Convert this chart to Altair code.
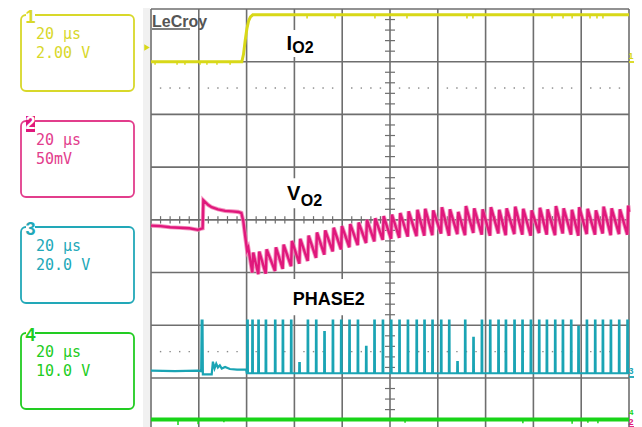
import altair as alt
import pandas as pd

# ---------------- screen geometry ----------------
T_MAX = 200.0            # 10 div x 20 us
DIV_LO, DIV_HI = 0.07, 8.0
W, H = 478, 418

GRID = "#6e6e6e"
YEL = "#d8d818"
MAG = "#e0187c"
MAG_HALO = "#f07ab0"
CYA = "#1aa4b4"
GRN = "#18d418"

# ---------------- channel legend boxes ----------------
channel_ids = ["1", "2", "3", "4"]
channel_tdiv = ["20 μs", "20 μs", "20 μs", "20 μs"]
channel_vdiv = ["2.00 V", "50mV", "20.0 V", "10.0 V"]
channel_box_color = ["#d8d82a", "#e23d8c", "#22a8b8", "#22cc22"]
channel_digit_color = ["#d8d82a", "#ffffff", "#22a8b8", "#22cc22"]
channel_digit_bg = ["#ffffff", "#e0187c", "#ffffff", "#ffffff"]

# ---------------- traces (time in us, position in divisions) ----------------
# CH1  I_O2
ch1_t = [0.0, 38.0, 38.7, 39.4, 40.1, 40.8, 41.6, 42.6, 200.0]
ch1_div = [7.00, 7.00, 7.14, 7.40, 7.62, 7.77, 7.85, 7.89, 7.89]
ch1_glitch_t = [1.7, 10.9, 14.2, 20.5, 23.4, 27.6, 33.1, 65.3, 77.0, 93.7, 107.1,
                132.2, 134.7, 167.8, 172.4, 176.2, 183.7, 186.6, 189.1]
ch1_glitch_hi = [7.00] * 7 + [7.89] * 12
ch1_glitch_lo = [6.94] * 7 + [7.82] * 12
ch1_trigger_div = [7.27]

# CH4  (flat)
ch4_t = [0.0, 200.0]
ch4_div = [0.21, 0.21]
ch4_glitch_t = [11.3, 19.7, 30.5, 106.3, 155.6, 176.2, 182.8, 187.0]
ch4_glitch_lo = [0.11, 0.12, 0.16, 0.15, 0.14, 0.13, 0.15, 0.14]

# CH3  PHASE2
ch3_pre_t = [0.0, 10.0, 19.5, 21.0, 21.2, 21.55, 21.7, 25.4, 25.9, 26.6, 27.3, 28.0,
             28.8, 29.6, 31.0, 33.0, 36.0, 39.8, 40.1]
ch3_pre_div = [1.14, 1.13, 1.14, 1.13, 2.09, 2.09, 1.07, 1.07, 1.31, 1.18, 1.27, 1.20,
               1.24, 1.18, 1.21, 1.17, 1.16, 1.16, 1.09]
ch3_base = 1.09
pulse_t = [40.29, 42.38, 44.90, 47.99, 51.88, 55.10, 58.58, 62.05, 65.56, 69.04,
           72.51, 76.03, 79.50, 82.97, 86.49, 89.97, 93.43, 96.95, 100.42, 103.89,
           107.41, 111.09, 114.35, 117.70, 121.34, 124.69, 128.16, 131.38, 134.85, 138.37,
           141.84, 145.32, 148.41, 152.01, 155.36, 158.87, 162.34, 165.56, 169.04, 172.26,
           175.73, 178.79, 182.30, 185.77, 188.99, 192.34, 195.81, 199.29]
ch3_top = [2.09, 2.09, 2.09, 2.09, 2.09, 2.09, 2.09, 1.28, 2.09, 2.09,
           1.87, 2.09, 2.09, 2.09, 2.09, 1.59, 2.09, 2.09, 2.09, 2.09,
           2.09, 2.09, 2.09, 2.09, 2.09, 2.09, 1.30, 2.09, 1.76, 2.09,
           2.09, 2.09, 2.09, 2.09, 2.09, 2.09, 2.09, 2.09, 2.09, 2.09,
           2.09, 1.97, 2.09, 2.09, 2.09, 2.09, 2.09, 2.09]

# CH2  V_O2
ch2_pre_t = [0.0, 4.0, 8.0, 12.0, 16.0, 19.6, 20.8, 21.6, 21.9, 22.6, 24.0, 25.4,
             28.0, 31.0, 34.0, 36.5, 37.8, 38.6, 39.5, 40.2]
ch2_pre_div = [3.89, 3.88, 3.86, 3.85, 3.84, 3.81, 3.83, 3.84, 4.37, 4.34, 4.28, 4.24,
               4.20, 4.17, 4.16, 4.15, 4.13, 3.98, 3.66, 3.42]
ch2_peak = [3.47, 3.38, 3.40, 3.44, 3.48, 3.53, 3.60, 3.64, 3.70, 3.76,
            3.80, 3.85, 3.88, 3.92, 3.95, 4.00, 4.03, 4.07, 4.10, 4.13,
            4.16, 4.19, 4.21, 4.18, 4.24, 4.20, 4.15, 4.26, 4.22, 4.20,
            4.24, 4.19, 4.22, 4.25, 4.21, 4.18, 4.23, 4.20, 4.26, 4.22,
            4.19, 4.24, 4.21, 4.18, 4.25, 4.22, 4.20, 4.27]
ch2_trough = [3.00, 2.97, 2.98, 3.03, 3.07, 3.12, 3.17, 3.22, 3.28, 3.34,
              3.40, 3.44, 3.48, 3.52, 3.56, 3.59, 3.62, 3.64, 3.66, 3.68,
              3.69, 3.70, 3.71, 3.74, 3.70, 3.73, 3.71, 3.75, 3.72, 3.70,
              3.74, 3.71, 3.73, 3.72, 3.70, 3.75, 3.72, 3.71, 3.74, 3.72,
              3.70, 3.73, 3.72, 3.74, 3.71, 3.73, 3.72, 4.15]

# labels on the screen
label_text = ["I", "O2", "V", "O2", "PHASE2"]
label_t = [56.7, 59.1, 56.9, 62.7, 59.3]
label_div = [7.22, 7.16, 4.38, 4.27, 2.38]
label_size = [20, 16, 20, 16, 18]
label_box_t0 = [54.8, 55.2, 55.2]
label_box_t1 = [69.9, 73.2, 92.5]
label_box_lo = [7.09, 4.22, 2.19]
label_box_hi = [7.60, 4.79, 2.88]

# ---------------- build tables ----------------
xs = alt.Scale(domain=[0, T_MAX], nice=False, zero=False)
ys = alt.Scale(domain=[DIV_LO, DIV_HI], nice=False, zero=False)


def X(f):
    return alt.X(f, type="quantitative", scale=xs, axis=None)


def Y(f):
    return alt.Y(f, type="quantitative", scale=ys, axis=None)


def PX(f):
    return alt.X(f, type="quantitative", scale=None, axis=None)


def PY(f):
    return alt.Y(f, type="quantitative", scale=None, axis=None)


# ch2 sawtooth line
pts2 = list(zip(ch2_pre_t, ch2_pre_div))
ends = pulse_t[1:] + [T_MAX]
for t, p, q, tn in zip(pulse_t, ch2_peak, ch2_trough, ends):
    pts2.append((t + 0.4, p))
    pts2.append((tn, q))
ch2_df = pd.DataFrame(pts2, columns=["t", "v"]).reset_index().rename(columns={"index": "i"})

# ch3 pulse train
pts3 = list(zip(ch3_pre_t, ch3_pre_div))
for t, top in zip(pulse_t, ch3_top):
    pts3 += [(t - 0.05, ch3_base), (t, top), (t + 0.2, top), (t + 0.25, ch3_base)]
pts3.append((T_MAX, ch3_base))
ch3_df = pd.DataFrame(pts3, columns=["t", "v"]).reset_index().rename(columns={"index": "i"})

ch1_df = pd.DataFrame({"t": ch1_t, "v": ch1_div})
ch4_df = pd.DataFrame({"t": ch4_t, "v": ch4_div})
g1_df = pd.DataFrame({"t": ch1_glitch_t, "lo": ch1_glitch_lo, "hi": ch1_glitch_hi})
g4_df = pd.DataFrame({"t": ch4_glitch_t, "lo": ch4_glitch_lo, "hi": [ch4_div[0]] * len(ch4_glitch_t)})

# graticule
grid_t = pd.DataFrame({"t": [20 * k for k in range(11)]})
grid_d = pd.DataFrame({"d": [k for k in range(1, 9)]})
minor_t = pd.DataFrame({"t": [4 * k for k in range(1, 50) if k % 5], "lo": 3.93, "hi": 4.07})
minor_d = pd.DataFrame({"d": [0.2 * k for k in range(1, 40) if k % 5], "lo": 97.9, "hi": 102.1})
dots = pd.DataFrame([(20 * k + 4 * j, r) for k in range(10) for j in range(1, 5) for r in (6.5, 1.5)],
                    columns=["t", "d"])

one = pd.DataFrame({"a": [0]})

layers = []
# left light band
layers.append(alt.Chart(one).mark_rect(color="#f1f1f1").encode(
    x=alt.value(-8), x2=alt.value(-1), y=alt.value(-9), y2=alt.value(H + 2)))
# graticule
layers.append(alt.Chart(grid_t).mark_rule(color=GRID, strokeWidth=1.6).encode(x=X("t")))
layers.append(alt.Chart(grid_d).mark_rule(color=GRID, strokeWidth=1.6).encode(y=Y("d")))
layers.append(alt.Chart(minor_t).mark_rule(color=GRID, strokeWidth=1.2).encode(x=X("t"), y=Y("lo"), y2="hi"))
layers.append(alt.Chart(minor_d).mark_rule(color=GRID, strokeWidth=1.2).encode(y=Y("d"), x=X("lo"), x2="hi"))
layers.append(alt.Chart(dots).mark_square(color="#8a8a8a", size=2, opacity=1).encode(x=X("t"), y=Y("d")))

# label white boxes
lb = pd.DataFrame({"t0": label_box_t0, "t1": label_box_t1, "lo": label_box_lo, "hi": label_box_hi})
layers.append(alt.Chart(lb).mark_rect(color="white").encode(x=X("t0"), x2="t1", y=Y("lo"), y2="hi"))

# traces
layers.append(alt.Chart(ch4_df).mark_line(color=GRN, strokeWidth=4).encode(x=X("t"), y=Y("v")))
layers.append(alt.Chart(g4_df).mark_rule(color=GRN, strokeWidth=1.5).encode(x=X("t"), y=Y("lo"), y2="hi"))
layers.append(alt.Chart(ch3_df).mark_line(color=CYA, strokeWidth=2.2).encode(
    x=X("t"), y=Y("v"), order="i:Q"))
layers.append(alt.Chart(ch2_df).mark_line(color=MAG_HALO, strokeWidth=4.2, opacity=0.8).encode(
    x=X("t"), y=Y("v"), order="i:Q"))
layers.append(alt.Chart(ch2_df).mark_line(color=MAG, strokeWidth=2.4).encode(
    x=X("t"), y=Y("v"), order="i:Q"))
layers.append(alt.Chart(ch1_df).mark_line(color=YEL, strokeWidth=3).encode(x=X("t"), y=Y("v")))
layers.append(alt.Chart(g1_df).mark_rule(color=YEL, strokeWidth=1.5).encode(x=X("t"), y=Y("lo"), y2="hi"))

# trigger arrow
layers.append(alt.Chart(pd.DataFrame({"d": ch1_trigger_div})).mark_point(
    shape="triangle-right", filled=True, size=40, color=YEL, opacity=1).encode(x=alt.value(-4), y=Y("d")))

# screen labels
lt = pd.DataFrame({"text": label_text, "t": label_t, "d": label_div, "fs": label_size})
layers.append(alt.Chart(lt).mark_text(align="left", baseline="alphabetic", font="Liberation Sans",
                                      fontWeight="bold", color="black").encode(
    x=X("t"), y=Y("d"), text="text:N", size=alt.Size("fs:Q", scale=None, legend=None)))

# LeCroy logo
layers.append(alt.Chart(one).mark_text(text="LeCroy", align="left", baseline="alphabetic",
                                       font="Liberation Sans Narrow, Liberation Sans", fontWeight="bold",
                                       fontSize=16, color="#555555").encode(x=alt.value(1), y=alt.value(17.5)))
layers.append(alt.Chart(one).mark_rule(color="#555555", strokeWidth=1.5).encode(
    x=alt.value(1), x2=alt.value(39), y=alt.value(20)))

# channel boxes (left panel)
box = pd.DataFrame({"ch": channel_ids, "tdiv": channel_tdiv, "vdiv": channel_vdiv,
                    "col": channel_box_color, "dcol": channel_digit_color, "dbg": channel_digit_bg})
box["top"] = [6 + 106 * i for i in range(len(box))]
box["bot"] = box["top"] + 76
box["y1"] = box["top"] + 19
box["y2"] = box["top"] + 38
box["dy"] = box["top"] + 3
box["bg0"] = box["top"] - 5
box["bg1"] = box["top"] + 11
box["x0"] = -130
box["x1"] = -17
box["tx"] = -115
box["dx0"] = -125
box["dx1"] = -116
box["dx"] = -120.5

layers.append(alt.Chart(box).mark_rect(filled=False, cornerRadius=5, strokeWidth=1.8).encode(
    x=PX("x0"), x2="x1", y=PY("top"), y2="bot", stroke=alt.Color("col:N", scale=None)))
layers.append(alt.Chart(box).mark_rect().encode(
    x=PX("dx0"), x2="dx1", y=PY("bg0"), y2="bg1", fill=alt.Color("dbg:N", scale=None)))
layers.append(alt.Chart(box).mark_text(align="center", baseline="middle", font="Liberation Sans",
                                       fontWeight="bold", fontSize=18).encode(
    x=PX("dx"), y=PY("dy"), text="ch:N", fill=alt.Color("dcol:N", scale=None)))
layers.append(alt.Chart(box).mark_text(align="left", baseline="middle", font="DejaVu Sans Mono",
                                       fontSize=15).encode(
    x=PX("tx"), y=PY("y1"), text="tdiv:N", fill=alt.Color("col:N", scale=None)))
layers.append(alt.Chart(box).mark_text(align="left", baseline="middle", font="DejaVu Sans Mono",
                                       fontSize=15).encode(
    x=PX("tx"), y=PY("y2"), text="vdiv:N", fill=alt.Color("col:N", scale=None)))

# right-edge channel markers (squeezed into the few pixels right of the grid)
rm = pd.DataFrame({"ch": ["1", "3", "4", "2"], "col": [YEL, CYA, GRN, MAG],
                   "y": [47, 362, 404, 413], "fs": [9, 9, 8, 9]})
layers.append(alt.Chart(rm).mark_text(align="right", baseline="middle", font="Liberation Sans",
                                      fontWeight="bold").encode(
    x=alt.value(482.5), y=PY("y"), text="ch:N", fill=alt.Color("col:N", scale=None),
    size=alt.Size("fs:Q", scale=None, legend=None)))
ru = pd.DataFrame({"col": [YEL, CYA, MAG], "y": [53, 368, 418]})
layers.append(alt.Chart(ru).mark_rule(strokeWidth=1.8).encode(
    x=alt.value(478), x2=alt.value(483), y=PY("y"), color=alt.Color("col:N", scale=None)))

chart = alt.layer(*layers).properties(
    width=W, height=H,
    autosize=alt.AutoSizeParams(type="none"),
    padding={"left": 143, "top": 1, "right": 5, "bottom": 0},
).configure_view(stroke=None)

chart.save("out.html", embed_options={"renderer": "svg", "actions": False})
